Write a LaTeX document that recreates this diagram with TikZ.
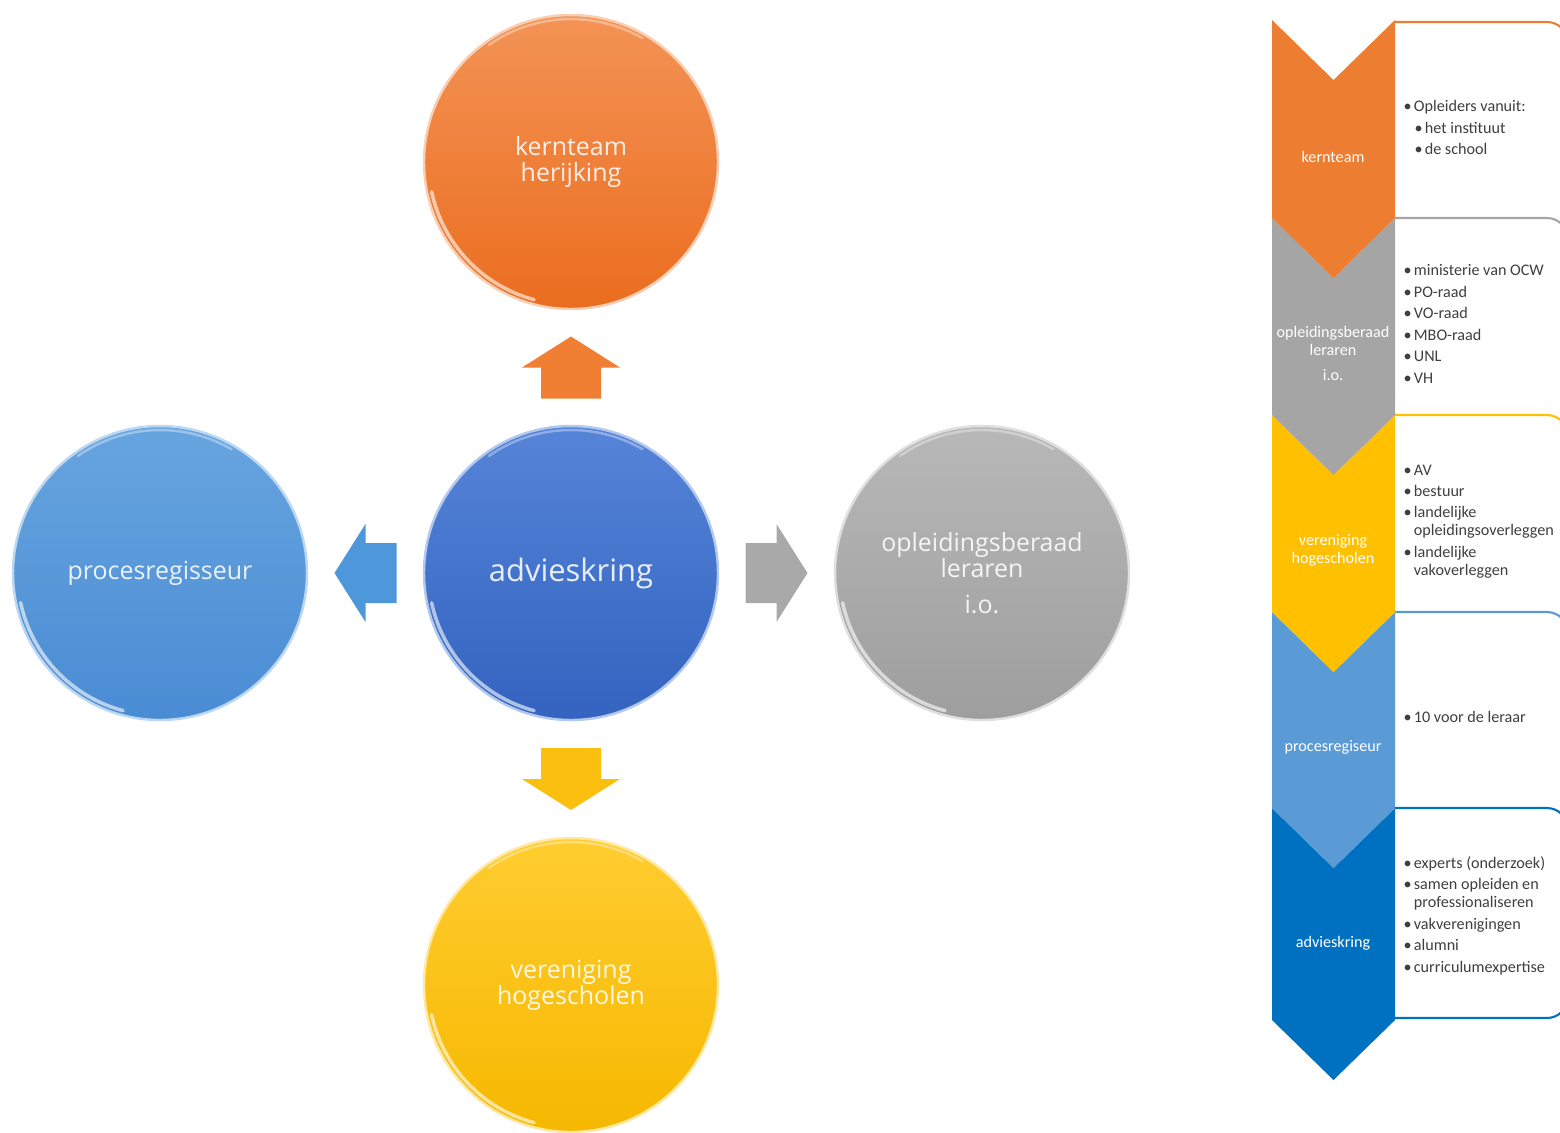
\documentclass[tikz,border=0pt]{standalone}
\usepackage{fontspec}
\setmainfont{Carlito}
\newfontfamily\bubblefont{Open Sans}
\usepackage{tikz}
\usetikzlibrary{calc}

\definecolor{kernorange}{HTML}{ED7D31}
\definecolor{oplgray}{HTML}{A5A5A5}
\definecolor{veryellow}{HTML}{FFC000}
\definecolor{proclight}{HTML}{5B9BD5}
\definecolor{advdark}{HTML}{0070C0}
\definecolor{listtext}{HTML}{3F3F3F}
% circle gradients
\definecolor{kernTop}{HTML}{F39355}
\definecolor{kernBot}{HTML}{EB6D1F}
\definecolor{advTop}{HTML}{5584D8}
\definecolor{advBot}{HTML}{3463C0}
\definecolor{procTop}{HTML}{67A5DF}
\definecolor{procBot}{HTML}{4A8CD4}
\definecolor{oplTop}{HTML}{B8B8B8}
\definecolor{oplBot}{HTML}{9E9E9E}
\definecolor{verTop}{HTML}{FFCD30}
\definecolor{verBot}{HTML}{F6B800}
% block arrows
\definecolor{arrOrange}{HTML}{F07F33}
\definecolor{arrBlue}{HTML}{4E97DA}
\definecolor{arrGray}{HTML}{A9A9A9}
\definecolor{arrYellow}{HTML}{FBBF10}

\newcommand{\itm}{\makebox[2.9pt][l]{•}}

\tikzset{
  bubble/.style n args={2}{circle, minimum size=29.4mm, inner sep=0pt, align=center,
    top color=#1, bottom color=#2, draw=#1!45!white, line width=0.7pt,
    font=\bubblefont\fontsize{7.1}{7.4}\selectfont, text=white, text opacity=0.88},
  glare/.style={white, opacity=0.6, line width=1pt, line cap=round},
  sheen/.style={white, opacity=0.35, line width=0.7pt, line cap=round},
  blockarrow/.pic={
    \path[pic actions] (-31,-30) -- (0,-30) -- (0,-49) -- (31,0) -- (0,49) -- (0,30) -- (-31,30) -- cycle;
  },
  listbox/.style={fill=white, line width=0.6pt, rounded corners=6pt},
  listitems/.style={anchor=north west, align=left, inner sep=0pt, text=listtext,
    font=\fontsize{4.6}{5.1}\selectfont},
  chevlabel/.style={text=white, align=center, inner sep=0pt, font=\fontsize{4.6}{5.1}\selectfont},
}

\begin{document}
\begin{tikzpicture}[x=0.1mm, y=0.1mm]
  \useasboundingbox (0,0) rectangle (1560,-1132);

  % circles
  \node[bubble={kernTop}{kernBot}] (kern) at (571,-162) {kernteam\\herijking};
  \node[bubble={advTop}{advBot}, font=\bubblefont\fontsize{8.8}{10}\selectfont] (adv) at (571,-573) {advieskring};
  \node[bubble={procTop}{procBot}] (proc) at (160,-573) {procesregisseur};
  \node[bubble={oplTop}{oplBot}] (opl) at (982,-573) {opleidingsberaad\\leraren\\[3pt]i.o.};
  \node[bubble={verTop}{verBot}] (ver) at (571,-985) {vereniging\\hogescholen};

  % glossy rims
  \foreach \n in {kern,adv,proc,opl,ver} {
    \draw[glare] ($(\n)+(192:14.25mm)$) arc[start angle=192, end angle=255, radius=14.25mm];
    \draw[sheen] ($(\n)+(60:14.3mm)$) arc[start angle=60, end angle=125, radius=14.3mm];
  }

  % block arrows out of advieskring
  \coordinate (mUp) at ($(adv)!0.5!(kern)$);
  \coordinate (mLeft) at ($(adv)!0.5!(proc)$);
  \coordinate (mRight) at ($(adv)!0.5!(opl)$);
  \coordinate (mDown) at ($(adv)!0.5!(ver)$);
  \pic[fill=arrOrange, rotate=90] at (mUp) {blockarrow};
  \pic[fill=arrBlue, rotate=180] at (mLeft) {blockarrow};
  \pic[fill=arrGray] at (mRight) {blockarrow};
  \pic[fill=arrYellow, rotate=-90] at (mDown) {blockarrow};

  % list boxes (right column), each one hides the bottom of the one above
  \draw[listbox, draw=kernorange] (1395,-22) -- (1568,-22) -- (1568,-250) -- (1395,-250);
  \draw[listbox, draw=oplgray] (1395,-218) -- (1568,-218) -- (1568,-450) -- (1395,-450);
  \draw[listbox, draw=veryellow] (1395,-415) -- (1568,-415) -- (1568,-650) -- (1395,-650);
  \draw[listbox, draw=proclight] (1395,-612) -- (1568,-612) -- (1568,-850) -- (1395,-850);
  \draw[listbox, draw=advdark] (1395,-808) -- (1568,-808) -- (1568,-1018) -- (1395,-1018);

  % chevrons, bottom one first
  \fill[advdark] (1272,-808) -- (1333.5,-868) -- (1395,-808) -- (1395,-1020) -- (1333.5,-1080) -- (1272,-1020) -- cycle;
  \fill[proclight] (1272,-612) -- (1333.5,-672) -- (1395,-612) -- (1395,-808) -- (1333.5,-868) -- (1272,-808) -- cycle;
  \fill[veryellow] (1272,-415) -- (1333.5,-475) -- (1395,-415) -- (1395,-612) -- (1333.5,-672) -- (1272,-612) -- cycle;
  \fill[oplgray] (1272,-218) -- (1333.5,-278) -- (1395,-218) -- (1395,-415) -- (1333.5,-475) -- (1272,-415) -- cycle;
  \fill[kernorange] (1272,-20) -- (1333.5,-80) -- (1395,-20) -- (1395,-218) -- (1333.5,-278) -- (1272,-218) -- cycle;

  \node[chevlabel] (cKern) at (1333,-157) {kernteam};
  \node[chevlabel] (cOpl) at (1333,-353) {opleidingsberaad\\leraren\\[2pt]i.o.};
  \node[chevlabel] (cVer) at (1333,-550) {vereniging\\hogescholen};
  \node[chevlabel] (cProc) at (1333,-747) {procesregiseur};
  \node[chevlabel] (cAdv) at (1333,-943) {advieskring};

  % list texts
  \node[listitems] (lKern) at (1403,-100) {\itm Opleiders vanuit:\\[1pt]
    \hspace{3.1pt}\itm het instituut\\[1pt]
    \hspace{3.1pt}\itm de school};
  \node[listitems] (lOpl) at (1403,-264) {\itm ministerie van OCW\\[1pt]
    \itm PO-raad\\[1pt] \itm VO-raad\\[1pt] \itm MBO-raad\\[1pt] \itm UNL\\[1pt] \itm VH};
  \node[listitems] (lVer) at (1403,-464) {\itm AV\\[1pt] \itm bestuur\\[1pt]
    \itm landelijke\\ \hspace{2.9pt}opleidingsoverleggen\\[1pt]
    \itm landelijke\\ \hspace{2.9pt}vakoverleggen};
  \node[listitems] (lProc) at (1403,-711) {\itm 10 voor de leraar};
  \node[listitems] (lAdv) at (1403,-856) {\itm experts (onderzoek)\\[1pt]
    \itm samen opleiden en\\ \hspace{2.9pt}professionaliseren\\[1pt]
    \itm vakverenigingen\\[1pt] \itm alumni\\[1pt] \itm curriculumexpertise};
\end{tikzpicture}
\end{document}
